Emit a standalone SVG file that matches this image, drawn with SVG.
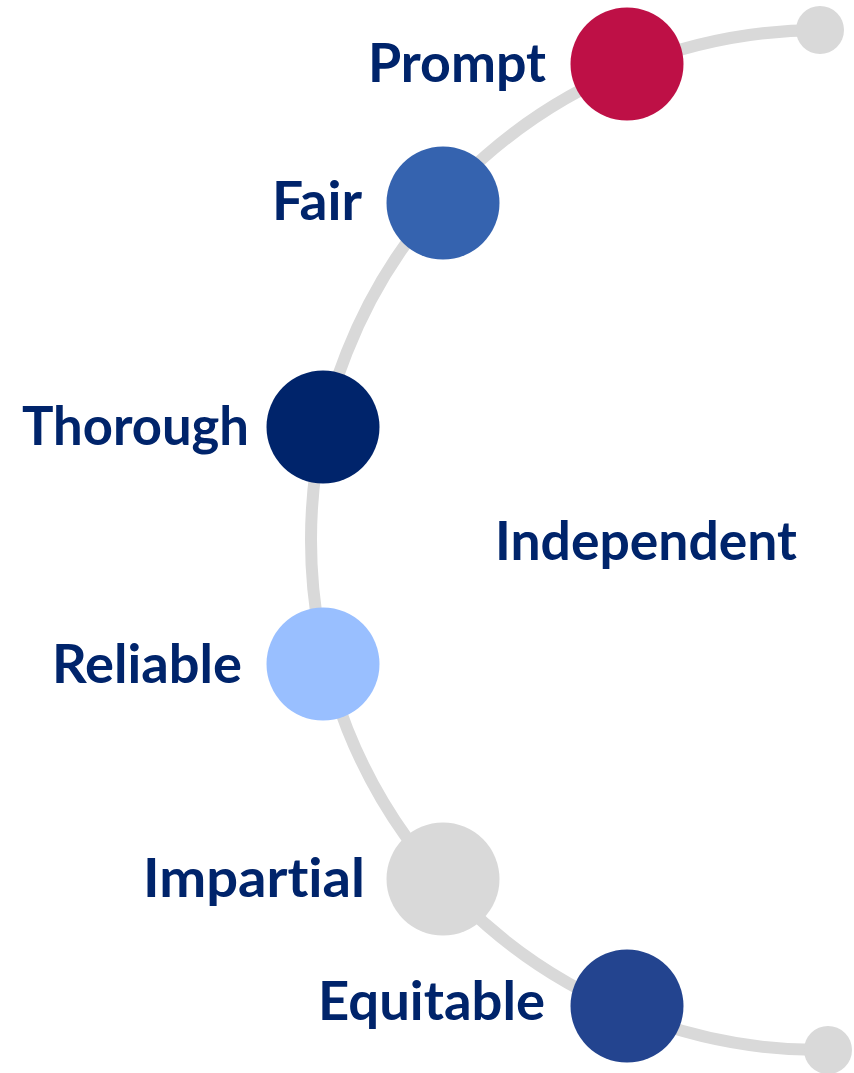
<svg xmlns="http://www.w3.org/2000/svg" width="854" height="1073" viewBox="0 0 854 1073">
<style>
.lbl{font-family:"Lato","Open Sans","Liberation Sans",sans-serif;font-weight:700;font-size:53px;fill:#00246B;font-variant-ligatures:none}
.end{text-anchor:end}
.track{fill:none;stroke:#D9D9D9;stroke-width:12}
</style>
<rect width="854" height="1073" fill="#FFFFFF"/>
<g id="connectors">
<path class="track" d="M 820 30 A 510 510 0 0 0 311 540 A 510 510 0 0 0 828 1050"/>
</g>
<g id="end-top"><circle cx="820" cy="30" r="24" fill="#D9D9D9"/></g>
<g id="end-bottom"><circle cx="828" cy="1050" r="24" fill="#D9D9D9"/></g>
<g id="node-prompt"><circle cx="627" cy="64" r="56.5" fill="#BE1046"/><text class="lbl" x="368" y="82" textLength="178" lengthAdjust="spacingAndGlyphs">Prompt</text></g>
<g id="node-fair"><circle cx="443" cy="203" r="56.5" fill="#3563AF"/><text class="lbl" x="272" y="220" textLength="90" lengthAdjust="spacingAndGlyphs">Fair</text></g>
<g id="node-thorough"><circle cx="323" cy="427" r="56.5" fill="#00246B"/><text class="lbl" x="22" y="445" textLength="227" lengthAdjust="spacingAndGlyphs">Thorough</text></g>
<g id="node-independent"><text class="lbl" x="495" y="560" textLength="302" lengthAdjust="spacingAndGlyphs">Independent</text></g>
<g id="node-reliable"><circle cx="323" cy="664" r="56.5" fill="#99BFFF"/><text class="lbl" x="52" y="683" textLength="190" lengthAdjust="spacingAndGlyphs">Reliable</text></g>
<g id="node-impartial"><circle cx="443" cy="879" r="56.5" fill="#D9D9D9"/><text class="lbl" x="143" y="897" textLength="222" lengthAdjust="spacingAndGlyphs">Impartial</text></g>
<g id="node-equitable"><circle cx="627" cy="1006" r="56.5" fill="#23448F"/><text class="lbl" x="318" y="1020" textLength="227" lengthAdjust="spacingAndGlyphs">Equitable</text></g>
</svg>
